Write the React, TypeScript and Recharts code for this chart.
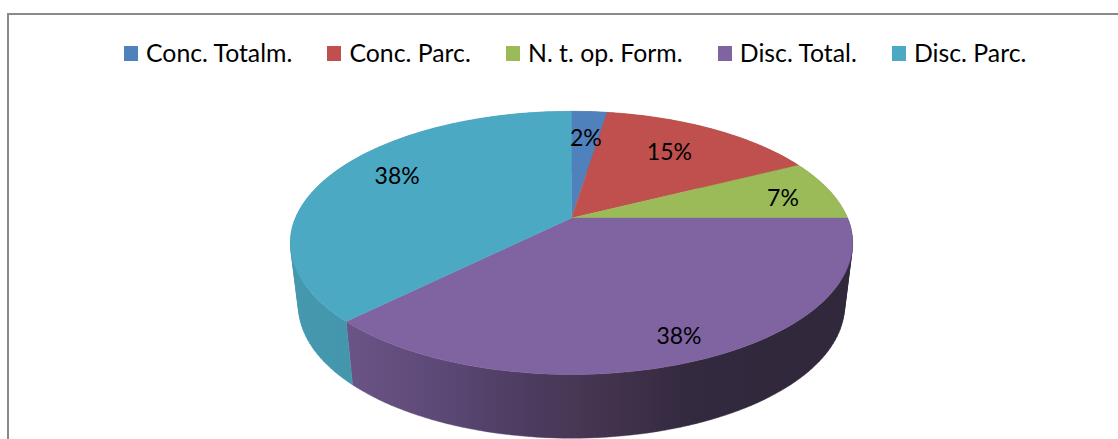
import React from "react";
import { PieChart, Pie, Legend } from "recharts";

const categories = ["Conc. Totalm.", "Conc. Parc.", "N. t. op. Form.", "Disc. Total.", "Disc. Parc."];
const shares = [2.45, 15.1, 7.45, 37.5, 37.5];
const topColors = ["#4f81bd", "#c0504d", "#9bbb59", "#8064a2", "#4ba9c3"];
const sideColors = [
  ["#3f6797", "#3f6797"],
  ["#9a403e", "#9a403e"],
  ["#7c9647", "#7c9647"],
  ["#6b5487", "#5e4a78", "#4f3d63", "#45344f", "#342a40", "#32283c", "#32283c"],
  ["#4598ae", "#3e8fa6"],
];
// Where each percentage sits: radial fraction of the pie and a small nudge, in px.
const labelPlacement = [
  { k: 0.71, dx: 1, dy: -2 },
  { k: 0.71, dx: -6, dy: -1 },
  { k: 0.8, dx: 4, dy: 2 },
  { k: 0.85, dx: 2, dy: 0 },
  { k: 0.75, dx: 7, dy: -8 },
];

const rows = categories.map((name, i) => ({ name, value: shares[i], fill: topColors[i] }));

const FONT = "Lato, Carlito, sans-serif";
const TILT = 0.1894;
const Y_SCALE = 0.4596;
const DEPTH_K = { rx: 273 / 281, ry: 133 / 132, ecx: 25 / 277, shift: 63 / 277 };

// Perspective projection of a point of the flat pie onto the page.
function project(cx: number, cy: number, R: number, k: number, angle: number) {
  const t = ((90 - angle) * Math.PI) / 180;
  const u = k * Math.sin(t);
  const v = k * Math.cos(t);
  const w = 1 + TILT * v;
  return { x: cx + (R * u) / w, y: cy - (R * Y_SCALE * v) / w };
}

function arcPoints(cx: number, cy: number, R: number, a0: number, a1: number) {
  const n = Math.max(2, Math.ceil(Math.abs(a1 - a0) / 1.5));
  const pts = [];
  for (let i = 0; i <= n; i++) pts.push(project(cx, cy, R, 1, a0 + ((a1 - a0) * i) / n));
  return pts;
}

function TopFace(p: any) {
  const pts = arcPoints(p.cx, p.cy, p.outerRadius, p.startAngle, p.endAngle);
  const d = `M${p.cx},${p.cy} ` + pts.map((q) => `L${q.x.toFixed(2)},${q.y.toFixed(2)}`).join(" ") + " Z";
  return <path d={d} fill={p.fill} stroke={p.fill} strokeWidth={0.4} />;
}

function quadPath(quad: { x: number; y: number }[]) {
  let area = 0;
  quad.forEach((q, i) => {
    const r = quad[(i + 1) % quad.length];
    area += q.x * r.y - r.x * q.y;
  });
  const pts = area < 0 ? [...quad].reverse() : quad;
  return "M" + pts.map((q) => `${q.x.toFixed(2)},${q.y.toFixed(2)}`).join(" L") + " Z";
}

function SideFace(p: any) {
  const R = p.outerRadius;
  const ey = p.cy + R * DEPTH_K.ecx;
  const top = arcPoints(p.cx, p.cy, R, p.startAngle, p.endAngle);
  const bottom = top.map((q) => ({
    x: p.cx + (q.x - p.cx) * DEPTH_K.rx,
    y: ey + (q.y - ey) * DEPTH_K.ry + R * DEPTH_K.shift,
  }));
  const xs = [...top, ...bottom].map((q) => q.x);
  const id = `side-${p.index}`;
  const stops = sideColors[p.index];
  const quads = [];
  for (let i = 0; i < top.length - 1; i++) {
    quads.push(quadPath([top[i], top[i + 1], bottom[i + 1], bottom[i]]));
  }
  return (
    <g>
      <defs>
        <linearGradient id={id} gradientUnits="userSpaceOnUse" x1={Math.min(...xs)} x2={Math.max(...xs)} y1={0} y2={0}>
          {stops.map((c, i) => (
            <stop key={i} offset={i / (stops.length - 1)} stopColor={c} />
          ))}
        </linearGradient>
      </defs>
      <path d={quads.join(" ")} fill={`url(#${id})`} stroke={`url(#${id})`} strokeWidth={0.4} />
    </g>
  );
}

function PercentLabel(p: any) {
  const place = labelPlacement[p.index];
  const q = project(p.cx, p.cy, p.outerRadius, place.k, p.midAngle);
  return (
    <text
      x={q.x + place.dx}
      y={q.y + place.dy}
      textAnchor="middle"
      dominantBaseline="central"
      fontFamily={FONT}
      fontSize={23}
      fill="#000"
    >
      {`${Math.round(p.value)}%`}
    </text>
  );
}

function LegendRow(props: any) {
  const items = (props.payload || []).filter((e: any) => e.type !== "none");
  return (
    <div style={{ display: "flex", alignItems: "center", fontFamily: FONT, fontSize: 24.8, lineHeight: "30px", color: "#000", whiteSpace: "nowrap" }}>
      {items.map((e: any, i: number) => (
        <div key={i} style={{ display: "flex", alignItems: "center", marginRight: 35.2 }}>
          <span style={{ width: 14, height: 15, background: e.color, marginRight: 8, display: "inline-block" }} />
          <span>{e.value}</span>
        </div>
      ))}
    </div>
  );
}

export default function App() {
  return (
    <div style={{ position: "absolute", left: 0, top: 0, width: 1118, height: 439, overflow: "hidden", background: "#fff" }}>
      <div
        style={{
          position: "absolute",
          left: 7,
          top: 13,
          width: 1111,
          height: 426,
          boxSizing: "border-box",
          borderTop: "2px solid #8a8a8a",
          borderLeft: "2px solid #8a8a8a",
        }}
      />
      <div style={{ position: "absolute", left: 0, top: 0 }}>
        <PieChart width={1118} height={439} margin={{ top: 0, right: 0, bottom: 0, left: 0 }}>
          <Legend
            content={<LegendRow />}
            layout="horizontal"
            align="center"
            verticalAlign="middle"
            itemSorter={null}
            wrapperStyle={{ left: 124, top: 38, width: 1000 }}
          />
          <Pie
            data={rows}
            dataKey="value"
            nameKey="name"
            cx={571.5}
            cy={218}
            outerRadius={276}
            startAngle={90}
            endAngle={-270}
            stroke="none"
            legendType="none"
            shape={SideFace}
            isAnimationActive={false}
          />
          <Pie
            data={rows}
            dataKey="value"
            nameKey="name"
            cx={571.5}
            cy={218}
            outerRadius={276}
            startAngle={90}
            endAngle={-270}
            stroke="none"
            legendType="square"
            shape={TopFace}
            label={PercentLabel}
            labelLine={false}
            isAnimationActive={false}
          />
        </PieChart>
      </div>
    </div>
  );
}
